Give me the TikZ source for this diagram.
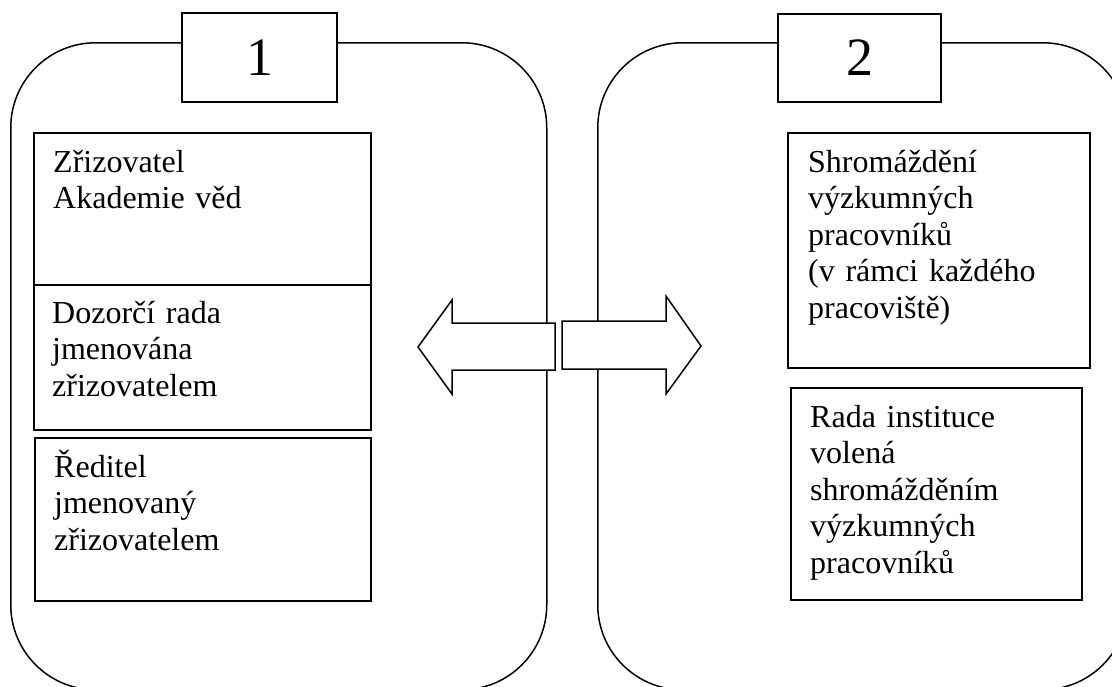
\documentclass[tikz,border=0pt]{standalone}
\usepackage{fontspec}
\setmainfont{Liberation Serif}
\usepackage{tikz}

\tikzset{
    panel/.style={draw, line width=1.5pt, rounded corners=85pt, anchor=north west, inner sep=0pt},
    numbox/.style={draw, fill=white, line width=1.5pt, inner sep=0pt, font=\fontsize{54}{60}\selectfont},
    orgbox/.style={draw, line width=1.8pt, anchor=north west, inner sep=0pt},
    orgtext/.style={anchor=base west, inner sep=0pt, text width=300pt, align=left, font=\fontsize{32}{36.5}\selectfont},
    bigarrow/.style={draw, fill=white, line width=1.5pt, line join=miter}
}

\begin{document}
\begin{tikzpicture}[x=1pt, y=-1pt]
    \useasboundingbox (0, 0) rectangle (1112, 686);
    \clip (0, 0) rectangle (1112, 686);

    % Panels
    \node[panel, minimum width=536pt, minimum height=647pt] (leftpanel) at (10, 42) {};
    \node[panel, minimum width=530pt, minimum height=647pt] (rightpanel) at (597, 42) {};
    \node[numbox, minimum width=155pt, minimum height=89pt] (num1) at (259.5, 57.5) {1};
    \node[numbox, minimum width=163pt, minimum height=88pt] (num2) at (859.5, 58) {2};

    % Left side
    \node[orgbox, minimum width=337pt, minimum height=152pt] (zriz) at (33, 132) {};
    \node[orgbox, minimum width=337pt, minimum height=145pt] (dozor) at (33, 284) {};
    \node[orgbox, minimum width=336pt, minimum height=163pt] (reditel) at (34, 437) {};
    \node[orgtext] (zriztext) at ([shift={(20pt, -40pt)}]zriz.north west) {Zřizovatel\\Akademie věd};
    \node[orgtext] (dozortext) at ([shift={(19pt, -39pt)}]dozor.north west) {Dozorčí rada\\jmenována\\zřizovatelem};
    \node[orgtext] (reditext) at ([shift={(20pt, -40pt)}]reditel.north west) {Ředitel\\jmenovaný\\zřizovatelem};

    % Right side
    \node[orgbox, minimum width=302pt, minimum height=235pt] (shrom) at (787, 132) {};
    \node[orgbox, minimum width=291pt, minimum height=212pt] (rada) at (790, 387) {};
    \node[orgtext] (shromtext) at ([shift={(21pt, -40pt)}]shrom.north west) {Shromáždění\\výzkumných\\pracovníků\\(v rámci každého\\pracoviště)};
    \node[orgtext] (radatext) at ([shift={(20pt, -40pt)}]rada.north west) {Rada instituce\\volená\\shromážděním\\výzkumných\\pracovníků};

    % Arrows
    \draw[bigarrow] (418, 347) -- (452, 300) -- (452, 323) -- (555, 323)
        -- (555, 370) -- (452, 370) -- (452, 394) -- cycle;
    \draw[bigarrow] (701, 346) -- (666, 296) -- (666, 321) -- (562, 321)
        -- (562, 369) -- (666, 369) -- (666, 394) -- cycle;
\end{tikzpicture}
\end{document}
